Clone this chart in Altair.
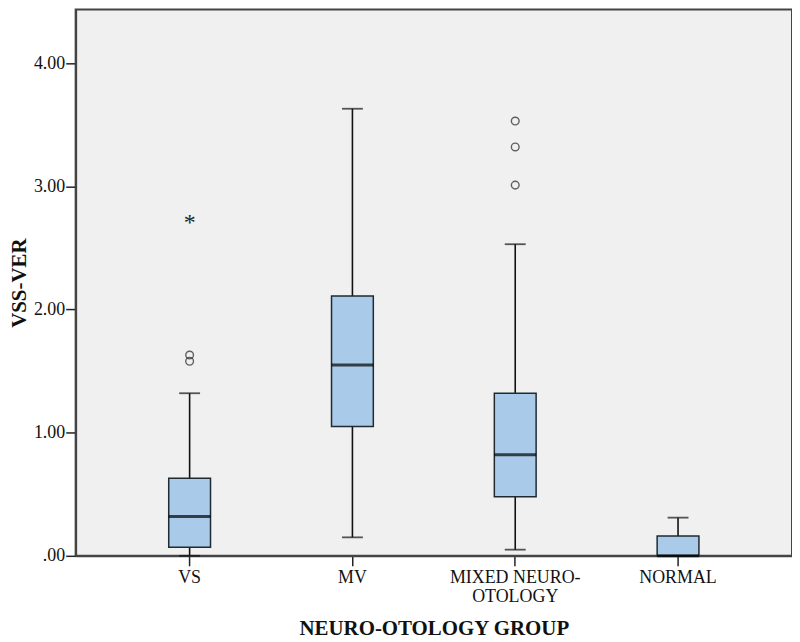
import altair as alt
import pandas as pd

groups = ["VS", "MV", "MIXED NEURO-OTOLOGY", "NORMAL"]
whisker_low = [0.0, 0.15, 0.05, 0.0]
q1 = [0.07, 1.05, 0.48, 0.0]
median = [0.32, 1.55, 0.82, 0.0]
q3 = [0.63, 2.11, 1.32, 0.16]
whisker_high = [1.32, 3.63, 2.53, 0.31]

outlier_groups = ["VS", "VS", "MIXED NEURO-OTOLOGY", "MIXED NEURO-OTOLOGY", "MIXED NEURO-OTOLOGY"]
outlier_values = [1.63, 1.58, 3.53, 3.32, 3.01]

extreme_groups = ["VS"]
extreme_values = [2.74]

box = pd.DataFrame({"group": groups, "lo": whisker_low, "q1": q1, "med": median,
                    "q3": q3, "hi": whisker_high})
out = pd.DataFrame({"group": outlier_groups, "v": outlier_values})
ext = pd.DataFrame({"group": extreme_groups, "v": extreme_values})

FONT = "Liberation Serif"
ydom = [0, 4.435]

x = alt.X("group:N", sort=groups, title="NEURO-OTOLOGY GROUP",
          scale=alt.Scale(paddingOuter=0.2, paddingInner=0),
          axis=alt.Axis(labelAngle=0, labelFont=FONT, labelFontSize=18, labelColor="#111",
                        labelLineHeight=19,
                        labelExpr="datum.label == 'MIXED NEURO-OTOLOGY' ? ['MIXED NEURO-', 'OTOLOGY'] : datum.label",
                        titleFont=FONT, titleFontSize=21, titleFontWeight="bold", titleColor="#111",
                        titlePadding=12, tickSize=10, tickWidth=1.5, tickColor="#222", domainColor="#444",
                        domainWidth=2, labelPadding=3, grid=False))

yscale = alt.Scale(domain=ydom, nice=False)

base = alt.Chart(box)

whisk = base.mark_rule(color="#111", strokeWidth=1.6).encode(
    x=x,
    y=alt.Y("lo:Q", scale=yscale, title="VSS-VER",
            axis=alt.Axis(values=[0, 1, 2, 3, 4], labelExpr="datum.value == 0 ? '.00' : format(datum.value, '.2f')",
                          labelFont=FONT, labelFontSize=18, labelColor="#111",
                          titleFont=FONT, titleFontSize=21, titleFontWeight="bold", titleColor="#111",
                          titlePadding=4, tickSize=10, tickWidth=1.5, tickColor="#222", domainColor="#444",
                          domainWidth=2, labelPadding=1, grid=False)),
    y2="hi:Q",
)

caps_hi = base.mark_tick(color="#111", thickness=1.8, size=21).encode(
    x=alt.X("group:N", sort=groups), y=alt.Y("hi:Q", scale=yscale))
caps_lo = base.mark_tick(color="#111", thickness=1.8, size=21).encode(
    x=alt.X("group:N", sort=groups), y=alt.Y("lo:Q", scale=yscale))

boxes = base.mark_bar(size=42, color="#a9cbe9", stroke="#1f2a33", strokeWidth=1.5).encode(
    x=alt.X("group:N", sort=groups), y=alt.Y("q1:Q", scale=yscale), y2="q3:Q")

meds = base.mark_tick(color="#000", thickness=3, size=42).encode(
    x=alt.X("group:N", sort=groups), y=alt.Y("med:Q", scale=yscale))

pts = alt.Chart(out).mark_point(shape="circle", filled=False, color="#222", size=60, strokeWidth=1.4).encode(
    x=alt.X("group:N", sort=groups), y=alt.Y("v:Q", scale=yscale))

stars = alt.Chart(ext).mark_text(text="*", font=FONT, fontSize=24, color="#222", baseline="middle", dy=5).encode(
    x=alt.X("group:N", sort=groups), y=alt.Y("v:Q", scale=yscale))

chart = alt.layer(whisk, caps_hi, caps_lo, boxes, meds, pts, stars).properties(
    width=720, height=549, background="white",
    padding={"left": 0, "top": 0, "right": 0, "bottom": 0}
).configure_view(fill="#f0f0f0", stroke="#444", strokeWidth=2)

chart.save("out.html", embed_options={"renderer": "svg", "actions": False})
